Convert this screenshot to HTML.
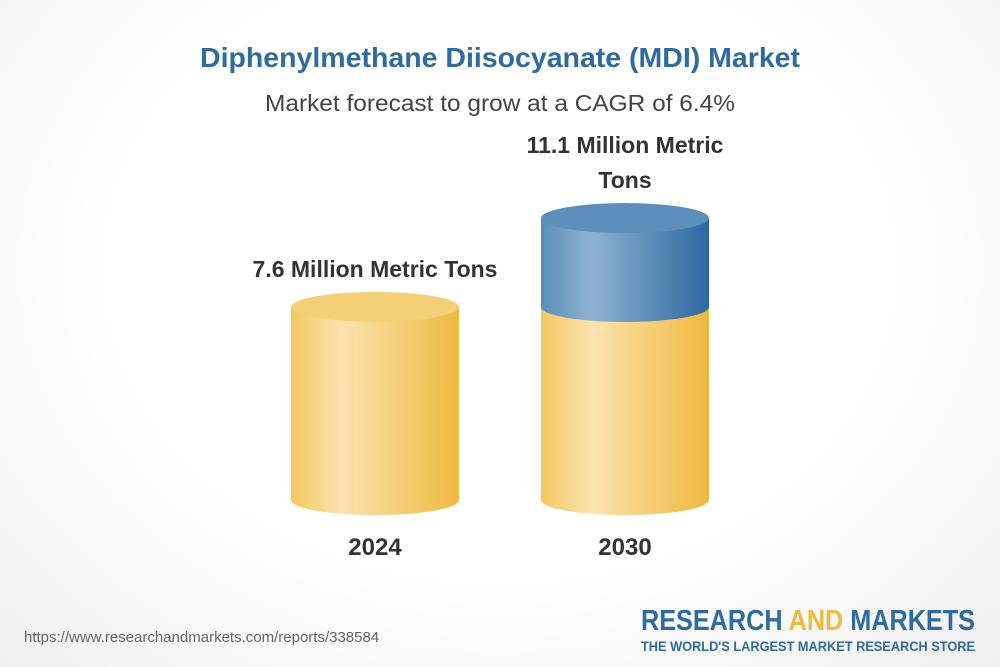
<!DOCTYPE html>
<html><head><meta charset="utf-8"><style>
html,body{margin:0;padding:0}
body{width:1000px;height:667px;overflow:hidden;font-family:"Liberation Sans",sans-serif;background:radial-gradient(ellipse at 50% 40%,#ffffff 55%,#f0f0f0 100%)}
svg{position:absolute;left:0;top:0}
</style></head><body>
<svg id="chart" width="1000" height="667">
<defs>
<linearGradient id="yel" x1="0" x2="1"><stop offset="0" stop-color="#f3c75e"/><stop offset="0.3" stop-color="#fbe3b0"/><stop offset="1" stop-color="#f0b93f"/></linearGradient>
<linearGradient id="blu" x1="0" x2="1"><stop offset="0" stop-color="#5b8dba"/><stop offset="0.3" stop-color="#8fb3d3"/><stop offset="1" stop-color="#2c68a0"/></linearGradient>
</defs>
<text x="500" y="67" text-anchor="middle" font-size="28" font-weight="bold" fill="#2e6aa3" textLength="600" lengthAdjust="spacingAndGlyphs">Diphenylmethane Diisocyanate (MDI) Market</text>
<text x="500" y="111" text-anchor="middle" font-size="23" fill="#444" textLength="470" lengthAdjust="spacingAndGlyphs">Market forecast to grow at a CAGR of 6.4%</text>
<g id="bars"></g>
<text x="24" y="642" font-size="15" fill="#666">https://www.researchandmarkets.com/reports/338584</text>
<text x="975" y="630" text-anchor="end" font-size="29" font-weight="bold" fill="#2e6aa3" textLength="334" lengthAdjust="spacingAndGlyphs">RESEARCH <tspan fill="#f0b93f">AND</tspan> MARKETS</text>
<text x="975" y="651" text-anchor="end" font-size="13.5" font-weight="bold" fill="#2e6aa3" textLength="334" lengthAdjust="spacingAndGlyphs">THE WORLD'S LARGEST MARKET RESEARCH STORE</text>
</svg>
<script>
const years=["2024","2030"];
const values=[7.6,11.1];
const labels=["7.6 Million Metric Tons","11.1 Million Metric|Tons"];
const base=500, scale=25.4, rx=84, ry=15;
const y=v=>base-v*scale;
const g=document.getElementById('bars');
const NS="http://www.w3.org/2000/svg";
function mk(t,a,p){const e=document.createElementNS(NS,t);for(const k in a)e.setAttribute(k,a[k]);(p||g).appendChild(e);return e;}
function cyl(cx,top,bot,fill,topFill,name){
  const grp=mk('g',{});
  
  
  mk('path',{d:`M${cx-rx},${top} L${cx-rx},${bot} A${rx},${ry} 0 0 0 ${cx+rx},${bot} L${cx+rx},${top} Z`,fill:fill},grp);
  mk('ellipse',{cx:cx,cy:top,rx:rx,ry:ry,fill:topFill},grp);
}
years.forEach((yr,i)=>{
  const cx=375+i*250;
  const first=values[0];
  if(i===0){cyl(cx,y(values[i]),base,'url(#yel)','#f5cf75','bar-'+yr);}
  else{
    cyl(cx,y(first),base,'url(#yel)','#f5cf75','bar-'+yr+'-base');
    cyl(cx,y(values[i]),y(first),'url(#blu)','#5d8fbc','bar-'+yr+'-growth');
  }
  const t=mk('text',{x:cx,y:base+55,'text-anchor':'middle','font-size':24,'font-weight':'bold',fill:'#333'});
  t.textContent=yr;
  
  
  const parts=labels[i].split('|');
  parts.forEach((p,j)=>{
    const l=mk('text',{x:cx,y:y(values[i])-ry-15-(parts.length-1-j)*35,'text-anchor':'middle','font-size':23,'font-weight':'bold',fill:'#333'});
    l.textContent=p;
    
    
  });
});
</script>
</body></html>
